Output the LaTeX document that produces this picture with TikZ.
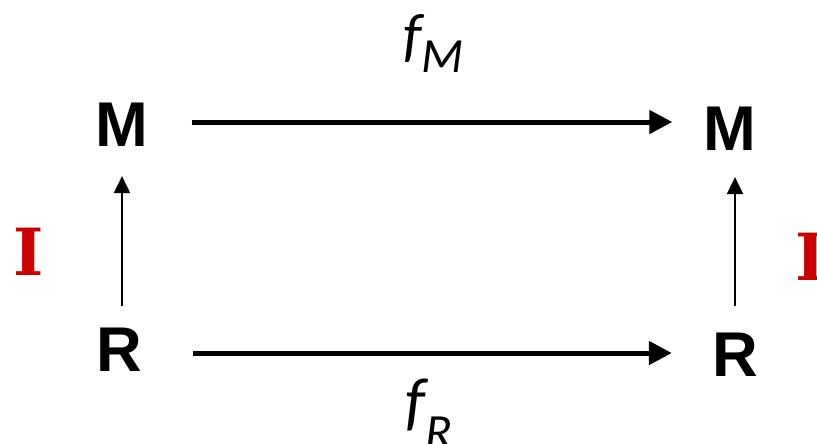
\documentclass[tikz,border=0pt]{standalone}
\usepackage{fontspec}
\setmainfont{Liberation Sans}
\newfontfamily\labelfont{Carlito}
\newfontfamily\isofont{DejaVu Serif}
\usepackage{tikz}
\usetikzlibrary{arrows.meta,calc}
\definecolor{rougeIso}{RGB}{204,0,0}

\begin{document}
\begin{tikzpicture}[x=0.02cm,y=-0.02cm,
  objet/.style={inner sep=0pt,font=\fontsize{36}{40}\selectfont\bfseries},
  iso/.style={inner sep=0pt,text=rougeIso,font=\isofont\fontsize{37}{40}\selectfont\bfseries},
  etiquette/.style={anchor=base west,inner sep=0pt,font=\labelfont\itshape},
  fleche/.style={-{Triangle[length=0.46cm,width=0.46cm]},line width=0.1cm},
  petiteFleche/.style={-{Triangle[length=0.34cm,width=0.32cm]},line width=0.04cm}]
  \useasboundingbox (0,0) rectangle (817,443);

  \node[objet] (M1) at (122,125) {M};
  \node[objet] (M2) at (730,129) {M};
  \node[objet] (R1) at (119,350) {R};
  \node[objet] (R2) at (735,355) {R};

  \node[iso] (I1) at (28.5,251.5) {I};
  \node[iso] (I2) at (810.5,257) {I};

  \draw[fleche,transform canvas={yshift=0.06cm},shorten <=0.86cm,shorten >=0.62cm]
    (M1.east) -- (M1.east -| M2.west);
  \draw[fleche,transform canvas={yshift=-0.06cm},shorten <=1.02cm,shorten >=0.80cm]
    (R1.east) -- (R1.east -| R2.west);
  \draw[petiteFleche,shorten <=0.44cm,shorten >=0.58cm] (M1.south |- R1.north) -- (M1.south);
  \draw[petiteFleche,shorten <=0.54cm,shorten >=0.52cm] (R2.north) -- (R2.north |- M2.south);

  \node[etiquette] (fM) at (403,55)
    {\fontsize{34}{34}\selectfont f\raisebox{-0.34cm}{\fontsize{28}{28}\selectfont M}};
  \node[etiquette] (fR) at (405,423)
    {\fontsize{37}{37}\selectfont f\raisebox{-0.5cm}{\fontsize{28}{28}\selectfont R}};
\end{tikzpicture}
\end{document}
